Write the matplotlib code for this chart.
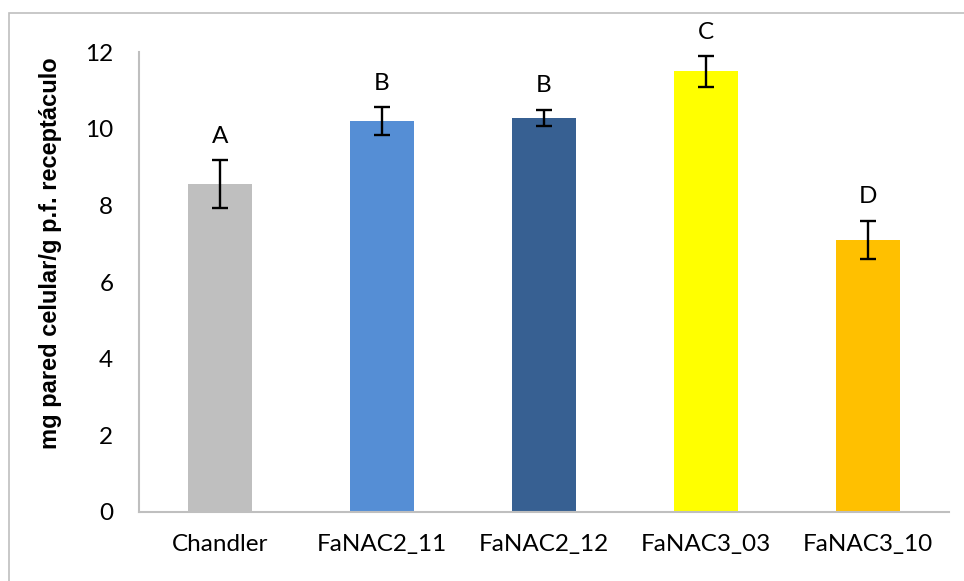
import matplotlib
matplotlib.use("Agg")
import matplotlib.pyplot as plt
from matplotlib.patches import Rectangle

lines = ["Chandler", "FaNAC2_11", "FaNAC2_12", "FaNAC3_03", "FaNAC3_10"]
cell_wall = [8.56, 10.20, 10.28, 11.50, 7.10]
sd = [0.62, 0.37, 0.22, 0.40, 0.50]
groups = ["A", "B", "B", "C", "D"]
colors = ["#BFBFBF", "#558ED5", "#376092", "#FFFF00", "#FFC000"]

TICK_FONT = "Lato"
TICK_SIZE = 17.5
AXIS_GRAY = "#BFBFBF"

fig = plt.figure(figsize=(9.64, 5.81), dpi=100)
W, H = 964, 581
ax = fig.add_axes([139 / W, 1 - 512 / H, (949 - 139) / W, (512 - 52) / H])

x = range(len(lines))
ax.bar(x, cell_wall, width=0.4, color=colors, zorder=2)
ax.errorbar(x, cell_wall, yerr=sd, fmt="none", ecolor="black",
            elinewidth=1.7, capsize=6, capthick=1.7, zorder=3)
for xi, v, e, g in zip(x, cell_wall, sd, groups):
    ax.text(xi, v + e + 0.62, g, ha="center", va="center",
            fontsize=TICK_SIZE, family=TICK_FONT)

ax.set_xlim(-0.5, 4.5)
ax.set_ylim(0, 12)
ax.set_yticks(range(0, 13, 2))
ax.set_xticks(list(x))
ax.set_xticklabels(lines, fontsize=TICK_SIZE, family=TICK_FONT)
ax.tick_params(axis="y", labelsize=TICK_SIZE, length=0, pad=18.5)
ax.tick_params(axis="x", length=0, pad=15.5)
for lbl in ax.get_yticklabels():
    lbl.set_family(TICK_FONT)
for side in ("top", "right"):
    ax.spines[side].set_visible(False)
for side in ("left", "bottom"):
    ax.spines[side].set_color(AXIS_GRAY)
    ax.spines[side].set_linewidth(1.5)

fig.text(51 / W, 1 - 253 / H, "mg pared celular/g p.f. receptáculo",
         rotation=90, ha="center", va="center", fontsize=17,
         fontweight="bold", family="Liberation Sans")

# outer chart-area frame
fig.patches.append(Rectangle((9 / W, -0.1), 1.2, 1 - 13 / H + 0.1,
                             transform=fig.transFigure, fill=False,
                             edgecolor="#BFBFBF", linewidth=1.2))

fig.savefig("out.png", dpi=100)
